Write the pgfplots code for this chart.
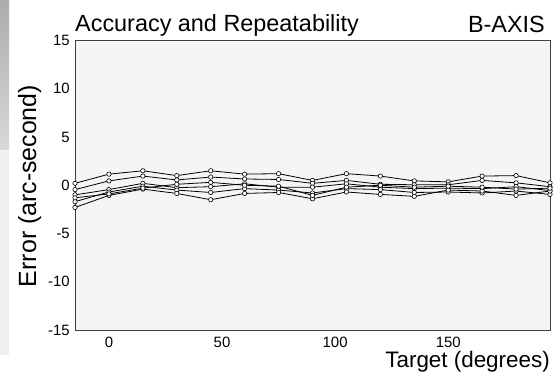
\documentclass[border=0pt]{standalone}
\usepackage{pgfplots}
\pgfplotsset{compat=1.18}
\usepackage{pgfplotstable}
\usepackage{fontspec}
\setmainfont{Liberation Sans}
\definecolor{bgcol}{RGB}{245,245,245}
\pgfplotsset{errline/.style={black, solid, line width=0.8bp, mark=*, mark size=2.2bp,
     mark options={fill=white, draw=black, line width=0.6bp, solid}}}
\pgfplotstableread{
x    s1    s2    s3    s4    s5    s6
-15  0.2  -0.45 -1.0  -1.7  -2.3  -1.3
0    1.15  0.45 -0.45 -0.7  -1.05 -0.9
15   1.5   0.95  0.2  -0.1  -0.4  -0.3
30   1.0   0.55 -0.25 -0.5  -0.85  0.1
45   1.5   0.85 -0.15 -0.75 -1.5   0.3
60   1.15  0.65  0.15 -0.35 -0.85  0.0
75   1.2   0.6  -0.2  -0.5  -0.75 -0.1
90   0.5   0.2  -0.2  -0.8  -1.4  -1.05
105  1.2   0.5   0.15 -0.35 -0.7  -0.2
120  0.95  0.1  -0.2  -0.45 -0.95  0.0
135  0.45  0.05 -0.35 -0.75 -1.15 -0.2
150  0.35  0.05 -0.3  -0.7  -0.5  -0.1
165  0.95  0.5  -0.35 -0.8  -0.6  -0.2
180  1.0   0.25 -0.15 -0.6  -1.05 -0.4
195  0.25 -0.15 -0.55 -0.95 -0.6  -0.3
}\errdata
\begin{document}
\begin{tikzpicture}
\fill[white] (0bp,0bp) rectangle (555bp,379bp);
\shade[top color=gray!65, bottom color=gray!30] (0bp,229bp) rectangle (9bp,379bp);
\fill[gray!12] (0bp,24bp) rectangle (9bp,229bp);
\begin{axis}[
  at={(75bp,49bp)}, anchor=south west,
  width=475bp, height=289.5bp, scale only axis,
  xmin=-15, xmax=195, ymin=-15, ymax=15,
  xtick={0,50,100,150}, ytick={-15,-10,...,15},
  major tick length=0pt,
  axis background/.style={fill=bgcol},
  axis line style={draw=black!75, line width=0.8bp},
  /pgf/number format/assume math mode=true,
  tick label style={font=\fontsize{15}{15}\selectfont, inner sep=0pt},
  yticklabel style={xshift=-5bp},
  xticklabel style={yshift=-7bp},
  clip=false,
]
\addplot[errline] table[x=x,y=s1]{\errdata};
\addplot[errline] table[x=x,y=s2]{\errdata};
\addplot[errline] table[x=x,y=s3]{\errdata};
\addplot[errline] table[x=x,y=s4]{\errdata};
\addplot[errline] table[x=x,y=s5]{\errdata};
\addplot[errline] table[x=x,y=s6]{\errdata};
\end{axis}
\node[anchor=base west, inner sep=0pt, font=\fontsize{23.5}{23.5}\selectfont] at (75bp,347bp) {Accuracy and Repeatability};
\node[anchor=base east, inner sep=0pt, font=\fontsize{23.5}{23.5}\selectfont] at (545bp,346bp) {B-AXIS};
\node[anchor=base east, inner sep=0pt, font=\fontsize{22.5}{22.5}\selectfont] at (550bp,12bp) {Target (degrees)};
\node[anchor=base, rotate=90, inner sep=0pt, font=\fontsize{25}{25}\selectfont] at (36bp,193bp) {Error (arc-second)};
\end{tikzpicture}
\end{document}
